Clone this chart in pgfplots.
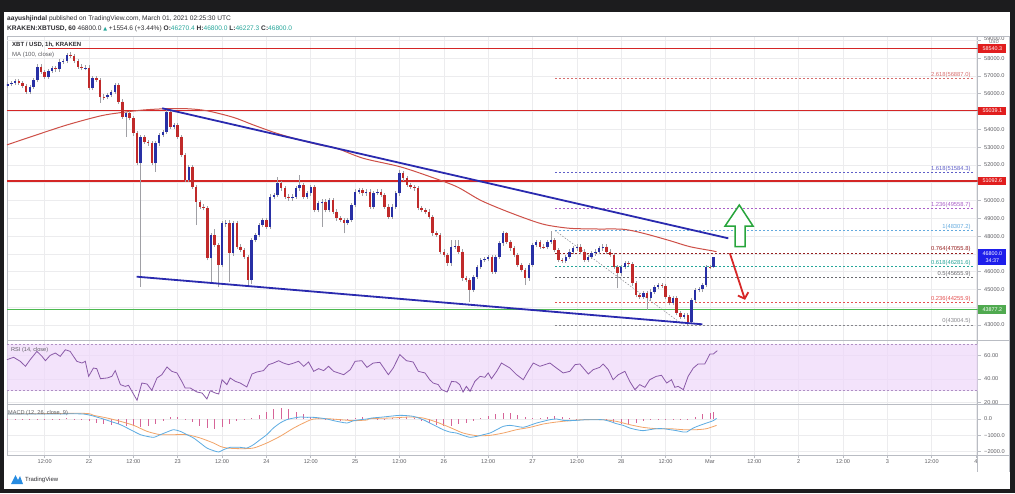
\documentclass[border=0pt]{standalone}
\usepackage{fontspec}
\setmainfont{Liberation Sans}
\newfontfamily\dejavu{DejaVu Sans}
\usepackage{pgfplots}
\usepackage{pgfplotstable}
\pgfplotsset{compat=1.18}
\usetikzlibrary{arrows.meta}

\definecolor{upc}{RGB}{40,48,165}
\definecolor{dnc}{RGB}{192,42,42}
\definecolor{wickc}{RGB}{160,160,165}
\definecolor{gridc}{RGB}{236,236,238}
\definecolor{framec}{RGB}{185,188,195}
\definecolor{lvlred}{RGB}{212,38,38}
\definecolor{lvlgreen}{RGB}{76,185,80}
\definecolor{trendc}{RGB}{42,42,175}
\definecolor{mac}{RGB}{206,80,72}
\definecolor{rsic}{RGB}{138,90,168}
\definecolor{rsifill}{RGB}{238,216,250}
\definecolor{rsidash}{RGB}{175,145,195}
\definecolor{macdc}{RGB}{92,172,226}
\definecolor{sigc}{RGB}{242,164,104}
\definecolor{histc}{RGB}{214,100,152}
\definecolor{tickc}{RGB}{95,95,100}
\definecolor{txtc}{RGB}{45,45,50}
\definecolor{tealc}{RGB}{38,166,154}
\definecolor{darkbg}{RGB}{28,28,30}
\definecolor{boxblue}{RGB}{30,30,235}
\definecolor{boxred}{RGB}{225,30,30}
\definecolor{boxgreen}{RGB}{80,170,80}
\definecolor{arrowgreen}{RGB}{40,165,60}
\definecolor{arrowred}{RGB}{215,40,40}
\definecolor{tvblue}{RGB}{40,140,225}
\definecolor{fibA}{RGB}{215,110,110}
\definecolor{fibB}{RGB}{95,95,200}
\definecolor{fibC}{RGB}{170,95,200}
\definecolor{fibD}{RGB}{100,170,222}
\definecolor{fibE}{RGB}{150,30,30}
\definecolor{fibF}{RGB}{38,166,154}
\definecolor{fibG}{RGB}{105,105,110}
\definecolor{fibH}{RGB}{228,80,80}
\definecolor{fibI}{RGB}{135,135,140}

\pgfplotstableread{
t o h l c
2 56450 56680 56330 56560
3 56560 56740 56440 56620
4 56620 56820 56500 56700
5 56700 56820 56500 56620
6 56620 56740 56330 56450
7 56450 56570 56000 56119
8 56119 56520 56000 56400
9 56400 56900 56280 56775
10 56775 57650 56650 57525
11 57525 57700 57120 57244
12 57244 57360 56840 56963
13 56963 57420 56840 57300
14 57300 57550 57180 57431
15 57431 57550 57250 57375
16 57375 57930 57250 57806
17 57806 57970 57690 57850
18 57850 58300 57730 58181
19 58181 58350 58010 58130
20 58130 58250 57730 57850
21 57850 57970 57400 57525
22 57525 57650 57310 57431
23 57431 57600 57310 57470
24 57470 57590 56190 56307
25 56307 56990 56190 56869
26 56869 57000 56660 56780
27 56780 56900 55500 55838
28 55838 55960 55650 55800
29 55800 56050 55680 55932
30 55932 56240 55810 56119
31 56119 56620 56000 56494
32 56494 56620 55440 55557
33 55557 55680 54600 54714
34 54714 55030 53589 54901
35 54901 55020 54500 54620
36 54620 54740 53650 53777
37 53777 53900 51970 52090
38 52090 53710 45150 53589
39 53589 53710 53190 53308
40 53308 53430 53090 53214
41 53214 53330 51970 52090
42 52090 53330 51622 53214
43 53214 53800 53090 53683
44 53683 53990 53560 53870
45 53870 55150 53750 54995
46 54995 55120 54030 54151
47 54151 54370 54030 54245
48 54245 54370 53470 53589
49 53589 53710 52440 52558
50 52558 52680 51030 51153
51 51153 52020 51030 51903
52 51903 52020 50660 50779
53 50779 50900 48623 49935
54 49935 50050 49530 49654
55 49654 49780 49440 49560
56 49560 49680 46630 46749
57 46749 48180 45344 48061
58 48061 48400 47380 47499
59 47499 47620 45156 46374
60 46374 48840 46250 48717
61 48717 48880 48500 48754
62 48754 48880 45437 47030
63 47030 48840 46900 48717
64 48717 48840 47280 47405
65 47405 47530 47100 47218
66 47218 47340 46720 46843
67 46843 46960 45250 45531
68 45531 47900 45300 47780
69 47780 48180 47660 48061
70 48061 48750 47940 48623
71 48623 49030 48500 48904
72 48904 49030 48400 48529
73 48529 50340 48400 50216
74 50216 50430 50100 50310
75 50310 51340 50190 50966
76 50966 51090 50560 50685
77 50685 50800 50100 50216
78 50216 50340 50000 50122
79 50122 50340 50000 50216
80 50216 50800 50100 50685
81 50685 51434 50560 50872
82 50872 51000 50100 50216
83 50216 50530 50100 50404
84 50404 50900 50280 50779
85 50779 50900 49340 49466
86 49466 49960 49340 49841
87 49841 50060 48529 49935
88 49935 50060 49340 49466
89 49466 50150 49340 50029
90 50029 50150 49250 49373
91 49373 49500 48870 48998
92 48998 49120 48780 48904
93 48904 49030 48155 48754
94 48754 49030 48630 48904
95 48904 49870 48780 49748
96 49748 50620 49620 50497
97 50497 50710 50370 50591
98 50591 50710 50280 50404
99 50404 50620 50280 50497
100 50497 50620 49530 49654
101 49654 50560 49530 50440
102 50440 50620 50320 50497
103 50497 50620 50190 50310
104 50310 50430 49530 49654
105 49654 49780 48970 49092
106 49092 49780 48970 49654
107 49654 50530 49530 50404
108 50404 51700 50280 51528
109 51528 51650 51120 51247
110 51247 51370 50750 50872
111 50872 51000 50660 50779
112 50779 50900 50560 50685
113 50685 50800 49440 49560
114 49560 49680 49340 49466
115 49466 49590 49250 49373
116 49373 49500 48970 49092
117 49092 49210 48030 48155
118 48155 48280 47940 48061
119 48061 48180 47000 47124
120 47124 47250 46810 46937
121 46937 47060 46340 46468
122 46468 47780 46340 47405
123 47405 47780 47280 47440
124 47440 47780 47000 47124
125 47124 47250 45500 45625
126 45625 45750 45410 45531
127 45531 45650 44313 44969
128 44969 45840 44850 45719
129 45719 46400 45600 46281
130 46281 46780 46160 46656
131 46656 46820 46540 46700
132 46700 46960 46580 46843
133 46843 46960 45880 46000
134 46000 46960 45880 46843
135 46843 47710 46720 47592
136 47592 48280 47470 48155
137 48155 48249 47560 47686
138 47686 47800 47190 47311
139 47311 47430 46810 46937
140 46937 47060 46250 46374
141 46374 46500 45970 46093
142 46093 46210 45250 45625
143 45625 46500 45500 46374
144 46374 47620 46250 47499
145 47499 47800 47380 47686
146 47686 47800 47280 47405
147 47405 47530 47250 47370
148 47370 47800 47250 47686
149 47686 48307.2 47560 47780
150 47780 47900 47100 47218
151 47218 47340 46540 46656
152 46656 46780 46500 46620
153 46620 46960 46500 46843
154 46843 47250 46720 47124
155 47124 47430 47000 47311
156 47311 47530 47190 47405
157 47405 47530 47000 47124
158 47124 47250 46540 46656
159 46656 46960 46540 46843
160 46843 47150 46720 47030
161 47030 47250 46910 47124
162 47124 47430 47000 47311
163 47311 47530 47190 47405
164 47405 47530 47000 47124
165 47124 47250 46810 46937
166 46937 47060 46160 46281
167 46281 46400 45063 45906
168 45906 46400 45780 46281
169 46281 46590 46160 46468
170 46468 46590 46310 46430
171 46430 46550 45220 45344
172 45344 45460 44560 44688
173 44688 44810 44470 44594
174 44594 44900 44470 44781
175 44781 44900 43845 44500
176 44500 45000 44380 44875
177 44875 45280 44750 45156
178 45156 45370 45030 45250
179 45250 45370 45080 45200
180 45200 45320 44470 44594
181 44594 44710 44100 44221
182 44221 44620 44100 44502
183 44502 44620 43540 43659
184 43659 43780 43350 43472
185 43472 43690 43350 43566
186 43566 43690 43004.5 43191
187 43191 44530 43070 44409
188 44409 45090 44290 44971
189 44971 45120 44850 45000
190 45000 45370 44880 45252
191 45252 46400 45130 46282
192 46282 46400 46150 46270.4
193 46270.4 46800 46227.3 46800
}\candles

\pgfplotsset{
  tv/.style={
    scale only axis, width=970.7pt, anchor=south west,
    xmin=1.813, xmax=264.45,
    axis line style={draw=framec, line width=0.8pt},
    xtick={12,24,...,264}, xticklabels={},
    xmajorgrids, ymajorgrids,
    grid style={draw=gridc, line width=0.6pt},
    ytick pos=right, yticklabel pos=right,
    tick align=outside, major tick length=3pt,
    tick style={draw=framec, line width=0.6pt},
    xtick style={draw=none},
    y tick label style={font=\fontsize{5.6}{6}\selectfont, text=tickc},
    x tick label style={font=\fontsize{5.6}{6}\selectfont, text=tickc},
    scaled y ticks=false,
    clip mode=individual,
    /pgf/number format/assume math mode=true,
  },
  fib/.style={dash pattern=on 2pt off 2pt, line width=0.7pt},
}
\tikzset{
  fiblab/.style={anchor=south east, inner sep=0.6pt, font=\fontsize{5.8}{6}\selectfont},
  pbox/.style={anchor=west, inner sep=1pt, minimum width=28pt, minimum height=8.5pt, font=\fontsize{5.4}{6}\selectfont, text=white, xshift=0.4pt},
}

\begin{document}
\begin{tikzpicture}
\fill[darkbg] (0pt,0pt) rectangle (1015pt,-493pt);
\fill[white] (3.5pt,-12pt) rectangle (1010pt,-489pt);

% ---------------- main price panel ----------------
\begin{axis}[tv, at={(7pt,-340.5pt)}, height=304.5pt,
  ymin=42132, ymax=59248,
  ytick={43000,44000,...,58000},
  yticklabels={43000.0,,45000.0,46000.0,,48000.0,49000.0,50000.0,,52000.0,53000.0,54000.0,,56000.0,57000.0,58000.0},
  extra y ticks={59000}, extra y tick labels={59000.0},
  extra y tick style={yticklabel style={yshift=2pt}},
]
% Fibonacci levels
\addplot[fibA, fib] coordinates {(150.1,56887.0) (263.6,56887.0)};
\addplot[fibB, fib] coordinates {(150.1,51584.3) (263.6,51584.3)};
\addplot[fibC, fib] coordinates {(150.1,49558.7) (263.6,49558.7)};
\addplot[fibD, fib] coordinates {(150.1,48307.2) (263.6,48307.2)};
\addplot[fibE, fib] coordinates {(150.1,47055.8) (263.6,47055.8)};
\addplot[fibF, fib] coordinates {(150.1,46281.6) (263.6,46281.6)};
\addplot[fibG, fib] coordinates {(150.1,45655.9) (263.6,45655.9)};
\addplot[fibH, fib] coordinates {(150.1,44255.9) (263.6,44255.9)};
\addplot[fibI, fib] coordinates {(150.1,43004.5) (263.6,43004.5)};
\addplot[fibI, dash pattern=on 1.5pt off 1.5pt, line width=0.5pt] coordinates {(150.1,48307.2) (184.8,43004.5)};
\node[fiblab, text=fibA] at (axis cs:262.7,56887.0) {2.618(56887.0)};
\node[fiblab, text=fibB] at (axis cs:262.7,51584.3) {1.618(51584.3)};
\node[fiblab, text=fibC] at (axis cs:262.7,49558.7) {1.236(49558.7)};
\node[fiblab, text=fibD] at (axis cs:262.7,48307.2) {1(48307.2)};
\node[fiblab, text=fibE] at (axis cs:262.7,47055.8) {0.764(47055.8)};
\node[fiblab, text=fibF] at (axis cs:262.7,46281.6) {0.618(46281.6)};
\node[fiblab, text=fibG] at (axis cs:262.7,45655.9) {0.5(45655.9)};
\node[fiblab, text=fibH] at (axis cs:262.7,44255.9) {0.236(44255.9)};
\node[fiblab, text=fibI] at (axis cs:262.7,43004.5) {0(43004.5)};
% horizontal levels
\addplot[lvlred, line width=1.2pt] coordinates {(13.0,58540.3) (264.45,58540.3)};
\addplot[lvlred, line width=1.2pt] coordinates {(1.813,55039.1) (264.45,55039.1)};
\addplot[lvlred, line width=1.2pt] coordinates {(1.813,51092.6) (264.45,51092.6)};
\addplot[lvlgreen, line width=1.4pt] coordinates {(1.813,43877.2) (264.45,43877.2)};
% MA(100)
\addplot[mac, line width=1.0pt, smooth, tension=0.5] coordinates {
(1.813,53130) (8.9,53627) (18.0,54246) (27.0,54752) (32.4,54937) (38.7,55089)
(45.0,55162) (50.4,55162) (55.8,55050) (63.0,54679) (68.5,54246) (74.8,53779)
(81.1,53403) (86.5,53122) (91.0,52936) (98.2,52374) (108.1,51902) (116.3,51340)
(123.5,50778) (129.8,50030) (136.1,49468) (143.3,48906) (147.8,48625) (154.1,48439)
(161.4,48400) (168.6,48383) (174.0,48158) (181.2,47742) (186.6,47405) (192.9,47163) (193.5,47120)};
% candles: wicks
\addplot[quiver={u=0, v=\thisrow{h}-\thisrow{l}}, draw=wickc, line width=0.6pt, mark=none] table[x=t, y=l] {\candles};
% candles: bodies
\addplot[quiver={u=0, v=\thisrow{c}-\thisrow{o}}, draw=upc, line width=2.5pt, mark=none,
  restrict expr to domain={\thisrow{c}-\thisrow{o}}{0:100000}] table[x=t, y=o] {\candles};
\addplot[quiver={u=0, v=\thisrow{c}-\thisrow{o}}, draw=dnc, line width=2.5pt, mark=none,
  restrict expr to domain={\thisrow{o}-\thisrow{c}}{0.001:100000}] table[x=t, y=o] {\candles};
% trend lines
\addplot[trendc, line width=1.8pt] coordinates {(43.83,55184) (196.97,47877)};
\addplot[trendc, line width=1.8pt] coordinates {(36.9,45719) (189.94,43043)};
% arrows
\addplot[arrowred, line width=1.8pt, -{Straight Barb[length=5pt, width=11pt, line width=1.8pt]}] coordinates {(197.4,47034) (201.5,44420)};
\addplot[draw=arrowgreen, line width=1.5pt, fill=white] coordinates {
(199.95,49749) (203.65,48568) (201.5,48568) (201.5,47405) (198.8,47405) (198.8,48568) (196.1,48568)} -- cycle;
% price boxes
\node[pbox, fill=boxred] at (axis cs:264.45,58540.3) {58540.3};
\node[pbox, fill=boxred] at (axis cs:264.45,55039.1) {55039.1};
\node[pbox, fill=boxred] at (axis cs:264.45,51092.6) {51092.6};
\node[pbox, fill=boxgreen] at (axis cs:264.45,43877.2) {43877.2};
\node[pbox, fill=boxblue, minimum height=16pt, align=center, font=\fontsize{5.4}{7}\selectfont] at (axis cs:264.45,46800) {46800.0\\34:37};
\end{axis}

% ---------------- RSI panel ----------------
\begin{axis}[tv, at={(7pt,-404.3pt)}, height=63.8pt,
  ymin=18.35, ymax=73.0,
  ytick={20,40,60}, yticklabels={20.00,40.00,60.00},
]
\addplot[draw=none, fill=rsifill, fill opacity=0.7] coordinates {(1.813,30) (264.45,30) (264.45,70) (1.813,70)} -- cycle;
\addplot[rsidash, dash pattern=on 2pt off 2pt, line width=0.5pt] coordinates {(1.813,70) (264.45,70)};
\addplot[rsidash, dash pattern=on 2pt off 2pt, line width=0.5pt] coordinates {(1.813,30) (264.45,30)};
\addplot[rsic, line width=0.8pt] coordinates {
(1.8,56.6) (3.6,58.6) (5.4,55.2) (6.8,50.9) (8.1,56.6) (9.9,63.7) (11.3,59.4) (12.2,55.7)
(13.5,60.3) (14.9,62.3) (16.2,59.4) (17.6,65.1) (18.9,63.7) (20.7,55.2) (22.1,53.7) (23,55.2)
(23.9,42.3) (25.2,49.4) (26.1,48.9) (27.1,40.3) (28.9,40.9) (30.2,42.3) (31.1,47.2) (32.5,35.2)
(33.8,33.7) (34.7,34.6) (35.6,29.5) (37,21.8) (38.3,36.6) (39.7,35.7) (41,30.3) (42.4,40.9)
(43.7,43.7) (45.1,50.3) (46.4,46.6) (47.8,45.2) (49.1,38.0) (50,32.3) (51.4,32.3) (53.2,28.9)
(54.6,28.0) (55.9,22.9) (56.8,30.0) (58.2,28.0) (59.1,27.2) (60,39.4) (61.3,35.2) (62.2,40.9)
(63.6,38.0) (64.9,36.6) (66.7,33.2) (68.1,44.3) (69.4,46.0) (71.2,47.2) (72.6,52.3) (73.9,53.7)
(75.3,55.7) (76.6,53.7) (78,52.3) (79.4,53.7) (80.7,55.2) (82.1,50.9) (83.4,54.6) (84.8,46.6)
(86.1,48.9) (87.5,47.2) (88.8,50.9) (90.2,46.6) (91.5,45.2) (92.9,43.7) (94.7,48.0) (96,55.2)
(97.8,55.7) (99.2,50.0) (100.9,53.7) (102.7,54.3) (105,43.7) (106.3,49.4) (108.1,60.9) (109.9,55.7)
(111.7,54.6) (113.1,46.6) (114.9,45.2) (116.2,39.4) (117.1,36.6) (118.5,35.2) (119.4,30.9) (120.9,28.9)
(122.1,38.0) (123.4,37.5) (124.3,35.2) (125.2,28.9) (126.1,33.7) (127.1,29.5) (128.4,38.0) (129.8,42.3)
(131.1,41.5) (132,45.2) (132.9,40.3) (134.3,46.6) (135.6,53.7) (137.9,49.4) (139.7,43.7) (141.5,39.4)
(142.8,46.6) (144.2,53.7) (146,50.9) (148.7,53.7) (150.5,49.4) (152.3,45.2) (154.1,46.6) (155.5,52.3)
(156.8,52.9) (159.1,44.3) (160.4,48.0) (162.2,50.0) (163.1,52.9) (164.5,48.0) (165.8,39.4) (167.2,43.7)
(169,46.6) (170.3,38.0) (171.7,30.9) (173,35.2) (174.4,32.9) (175.7,39.4) (177.5,42.3) (178.9,43.2)
(180.3,36.6) (181.6,39.4) (182.5,32.9) (183.4,33.7) (184.8,30.9) (186.1,42.3) (187.5,49.4) (188.8,52.9)
(190.6,52.9) (192,61.4) (192.9,61.4) (194,64.3)};
\end{axis}

% ---------------- MACD panel ----------------
\begin{axis}[tv, at={(7pt,-455pt)}, height=50.7pt,
  ymin=-2202, ymax=899,
  ytick={-2000,-1000,0}, yticklabels={−2000.0,−1000.0,0.0},
  xticklabels={12:00,22,12:00,23,12:00,24,12:00,25,12:00,26,12:00,27,12:00,28,12:00,Mar,12:00,2,12:00,3,12:00,4},
  xtick pos=left, xtick style={draw=framec},
  x tick label style={yshift=1.5pt},
]
\addplot[ycomb, histc, line width=0.8pt] coordinates {
(2,-40) (4,-30) (6,-50) (8,-20) (10,30) (12,20) (14,10) (16,30) (18,40) (20,20) (22,-20)
(24,-150) (26,-250) (28,-300) (30,-350) (32,-320) (34,-400) (36,-450) (38,-500) (40,-420)
(42,-300) (44,-150) (46,100) (48,150) (50,20) (52,-200) (54,-400) (56,-550) (58,-600) (60,-500)
(62,-300) (64,-150) (66,-80) (68,50) (70,250) (72,450) (74,620) (76,700) (78,600) (80,450)
(82,300) (84,150) (86,60) (88,-30) (90,-80) (92,-100) (94,-50) (96,60) (98,120) (100,80)
(102,30) (104,-30) (106,40) (108,120) (110,150) (112,80) (114,-100) (116,-250) (118,-350) (120,-450)
(122,-400) (124,-300) (126,-250) (128,-150) (130,50) (132,200) (134,300) (136,380) (138,340) (140,250)
(142,150) (144,80) (146,60) (148,150) (150,200) (152,120) (154,50) (156,20) (158,10) (160,-10)
(162,20) (164,-60) (166,-200) (168,-300) (170,-320) (172,-250) (174,-150) (176,-60) (178,-20) (180,20)
(182,-30) (184,-80) (186,20) (188,150) (190,280) (192,380) (193,430)};
\addplot[sigc, line width=0.8pt, smooth, tension=0.4] coordinates {
(1.9,305) (22.5,346) (25.2,224) (28.9,60) (32.5,-144) (36.1,-388) (39.7,-755) (43.3,-959)
(46.9,-959) (50.5,-959) (54.1,-1163) (57.7,-1469) (59.5,-1673) (61.3,-1775) (64.9,-1815) (68.5,-1775)
(72.1,-1469) (75.7,-1061) (79.4,-551) (83,-144) (84.8,0) (88.4,20) (92,-42) (95.6,-102) (99.2,-61)
(100,20) (105.4,60) (110.8,122) (114.4,60) (118,-184) (121.6,-510) (125.2,-857) (128.9,-1020)
(132.5,-1000) (136.1,-857) (139.7,-653) (143.3,-510) (146.9,-306) (150.5,-184) (154.1,-102) (157.7,-42)
(163.1,-42) (166.7,-144) (170.3,-347) (173.9,-510) (177.5,-592) (181.2,-592) (184.8,-653) (188.4,-653)
(191.1,-592) (193.8,-388)};
\addplot[macdc, line width=0.8pt, smooth, tension=0.4] coordinates {
(1.9,305) (13.5,305) (22.5,305) (27,60) (29.8,-144) (32.5,-347) (35.2,-653) (37.9,-959)
(39.7,-1061) (41.5,-1122) (43.3,-959) (45.1,-796) (46.9,-653) (48.7,-755) (50.5,-959) (52.3,-1163)
(54.1,-1469) (55.9,-1775) (57.7,-1938) (59.1,-2019) (60.4,-1877) (62.2,-1734) (64.9,-1734) (66.7,-1775)
(68.5,-1571) (70.3,-1265) (72.1,-959) (73.9,-551) (75.7,-245) (77.5,-42) (79.4,60) (81.2,122)
(83,101) (84.8,101) (86.6,60) (88.4,0) (90.2,-102) (92,-184) (93.8,-245) (95.6,-102) (97.4,-42)
(99.2,0) (100.5,60) (103.6,122) (108.1,224) (111.7,163) (114.4,-42) (117.1,-347) (119.8,-653)
(121.6,-796) (123.4,-857) (125.2,-1000) (127.1,-1122) (128.9,-1061) (130.7,-959) (132.5,-857) (134.3,-653)
(136.1,-449) (137.9,-388) (139.7,-449) (141.5,-510) (143.3,-388) (145.1,-245) (146.9,-144) (148.7,-42)
(150.5,0) (152.3,-82) (154.1,-102) (155.9,-82) (158.6,-42) (161.3,-42) (163.1,-42) (164.9,-144)
(166.7,-286) (168.5,-388) (170.3,-551) (172.1,-653) (173.9,-714) (175.7,-653) (177.5,-592) (179.4,-592)
(181.2,-653) (183,-714) (184.8,-796) (185.7,-796) (187.5,-551) (189.3,-388) (191.1,-245) (192.9,-102) (193.8,40)};
\end{axis}

% frame extensions on the price scale column
\draw[framec, line width=0.8pt] (977.7pt,-36pt) -- (1009pt,-36pt);
\draw[framec, line width=0.8pt] (977.7pt,-340.5pt) -- (1009pt,-340.5pt);
\draw[framec, line width=0.8pt] (977.7pt,-404.3pt) -- (1009pt,-404.3pt);
\draw[framec, line width=0.8pt] (977.7pt,-455pt) -- (1009pt,-455pt);
\draw[framec, line width=0.8pt] (977.7pt,-455pt) -- (977.7pt,-472pt);
\draw[framec, line width=0.6pt] (1009pt,-36pt) -- (1009pt,-472pt);
\node[anchor=center, inner sep=0pt, font=\fontsize{4.6}{5}\selectfont, text=tickc] at (994pt,-42.2pt) {USD};

% titles and labels
\node[anchor=west, inner sep=0pt, font=\fontsize{6.6}{7}\selectfont, text=txtc] at (7pt,-18.8pt)
  {\textbf{aayushjindal} published on TradingView.com, March 01, 2021 02:25:30 UTC};
\node[anchor=west, inner sep=0pt, font=\fontsize{6.6}{7}\selectfont, text=txtc] at (7pt,-28.6pt)
  {\textbf{KRAKEN:XBTUSD, 60} 46800.0 {\color{tealc}\dejavu\fontsize{5}{6}\selectfont ▲} +1554.6 (+3.44\%) \textbf{O:}{\color{tealc}46270.4} \textbf{H:}{\color{tealc}46800.0} \textbf{L:}{\color{tealc}46227.3} \textbf{C:}{\color{tealc}46800.0}};
\node[anchor=west, inner sep=0pt, font=\bfseries\fontsize{6}{7}\selectfont, text=txtc] at (12pt,-44.8pt) {XBT / USD, 1h, KRAKEN};
\node[anchor=west, inner sep=0pt, font=\fontsize{6}{7}\selectfont, text=tickc] at (12pt,-54.8pt) {MA (100, close)};
\node[anchor=west, inner sep=0pt, font=\fontsize{5.6}{7}\selectfont, text=tickc] at (11pt,-350pt) {RSI (14, close)};
\node[anchor=west, inner sep=0pt, font=\fontsize{5.6}{7}\selectfont, text=tickc] at (8pt,-413pt) {MACD (12, 26, close, 9)};

% TradingView logo
\fill[tvblue] (11pt,-484pt) -- (15.5pt,-475pt) -- (18pt,-480pt) -- (20pt,-476pt) -- (23pt,-484pt) -- cycle;
\node[anchor=west, inner sep=0pt, font=\fontsize{6}{7}\selectfont, text=txtc] at (25pt,-479.5pt) {TradingView};
\end{tikzpicture}
\end{document}
